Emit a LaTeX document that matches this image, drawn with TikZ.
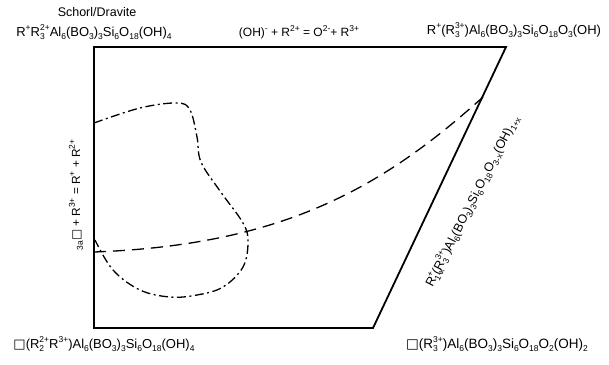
\documentclass[tikz,border=0pt]{standalone}
\usepackage{fontspec}
\setmainfont{Liberation Sans}
\newfontfamily\symfont{DejaVu Sans}
\newcommand{\ssz}{\fontsize{8.5}{9}\selectfont}
\newcommand{\up}[1]{\raisebox{0.85ex}{\ssz #1}}
\newcommand{\dn}[1]{\raisebox{-0.45ex}{\ssz #1}}
\newcommand{\ud}[2]{\rlap{\dn{#2}}\up{#1}}
\newcommand{\vac}{{\symfont □}}
\begin{document}
\begin{tikzpicture}[x=1pt,y=-1pt,
  frame/.style={line width=1.8pt,line join=miter},
  comp/.style={line width=1.3pt,dash pattern=on 12pt off 7pt},
  field/.style={line width=1.3pt,dash pattern=on 9pt off 3.5pt on 2pt off 3.5pt},
  lbl/.style={inner sep=0pt,font=\fontsize{13}{14}\selectfont}]
\useasboundingbox (0,0) rectangle (609,364);
\coordinate (tl) at (94,47);
\coordinate (tr) at (506,47);
\coordinate (br) at (373,328);
\coordinate (bl) at (94,328);
\draw[frame] (tl) -- (tr) -- (br) -- (bl) -- cycle;
% compositional trend (dashed)
\coordinate (d0) at (94,252);
\coordinate (d1) at (483,97);
\draw[comp] (d0) .. controls (280,245) and (380,190) .. (d1);
% dash-dot field
\draw[field] plot[smooth,tension=0.6] coordinates {(94,123) (140,108) (177,103) (190,110) (197,137) (201,162) (220,191) (243,223) (248,242) (243,267) (223,287) (197,295) (170,297) (140,290) (113,270) (95,240)};
% labels
\node[lbl,font=\fontsize{12.5}{14}\selectfont] (sd) at (97,12) {Schorl/Dravite};
\node[lbl] (f1) at (94,32) {R\up{+}R\ud{2+}{3}Al\dn{6}(BO\dn{3})\dn{3}Si\dn{6}O\dn{18}(OH)\dn{4}};
\node[lbl,font=\fontsize{12}{13}\selectfont] (ex1) at (299,32) {(OH)\up{-} + R\up{2+} = O\up{2-}+ R\up{3+}};
\node[lbl] (f2) at (514,30) {R\up{+}(R\ud{3+}{3})Al\dn{6}(BO\dn{3})\dn{3}Si\dn{6}O\dn{18}O\dn{3}(OH)};
\node[lbl] (f3) at (104,344) {\vac(R\ud{2+}{2}R\up{3+})Al\dn{6}(BO\dn{3})\dn{3}Si\dn{6}O\dn{18}(OH)\dn{4}};
\node[lbl,font=\fontsize{13.5}{14}\selectfont] (f4) at (497,344) {\vac(R\ud{3+}{3})Al\dn{6}(BO\dn{3})\dn{3}Si\dn{6}O\dn{18}O\dn{2}(OH)\dn{2}};
\node[lbl,rotate=90,font=\fontsize{11.8}{13}\selectfont] (ex2) at (76,195) {\dn{3a}\vac{} + R\up{3+} = R\up{+} + R\up{2+}};
\node[lbl,rotate=63,font=\fontsize{12.5}{14}\selectfont] (f5) at (472,201) {R\ud{+}{1-x}(R\ud{3+}{3})Al\dn{6}(BO\dn{3})\dn{3}Si\dn{6}O\dn{18}O\dn{3-x}(OH)\dn{1+x}};
\end{tikzpicture}
\end{document}
